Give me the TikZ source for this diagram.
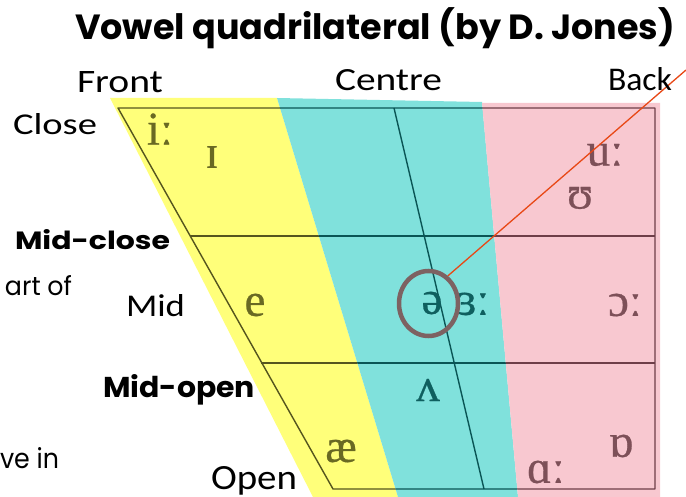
\documentclass[tikz,border=0pt]{standalone}
\usepackage{fontspec}
\usepackage{graphicx}
\usetikzlibrary{shapes.geometric}
\newfontfamily\popfont{Poppins}
\newfontfamily\carfont{Carlito}
\newfontfamily\ipafont[FakeBold=0.6]{Liberation Serif}
\definecolor{ylw}{RGB}{255,255,122}
\definecolor{cyn}{RGB}{128,225,220}
\definecolor{pnk}{RGB}{248,200,208}
\definecolor{lineY}{RGB}{85,85,30}
\definecolor{lineC}{RGB}{10,85,85}
\definecolor{lineP}{RGB}{110,62,72}
\definecolor{txtY}{RGB}{105,105,35}
\definecolor{txtC}{RGB}{15,95,95}
\definecolor{txtP}{RGB}{125,80,88}
\definecolor{ringcol}{RGB}{125,98,98}
\definecolor{redline}{RGB}{232,72,22}
\newcommand\quadgrid[1]{%
  \draw[line width=1.4pt,#1,line join=round] (TL) -- (TR) -- (BR) -- (BL) -- cycle;
  \draw[line width=1.4pt,#1] (L1) -- (R1);
  \draw[line width=1.4pt,#1] (L2) -- (R2);
  \draw[line width=1.4pt,#1] (CT) -- (CB);
}
\begin{document}
\begin{tikzpicture}[x=1pt,y=-1pt,
  lbl/.style={anchor=base west,inner sep=0pt,outer sep=0pt},
  vow/.style={inner sep=0pt,font=\ipafont\fontsize{47}{47}\selectfont},
  vY/.style={vow,text=txtY},
  vC/.style={vow,text=txtC},
  vP/.style={vow,text=txtP}]
\fill[white] (0,0) rectangle (686,497);
\useasboundingbox (0,0) rectangle (686,497);
% colour bands
\coordinate (Y1) at (110,98);
\coordinate (Y2) at (277,98);
\coordinate (Y3) at (398,497);
\coordinate (Y4) at (313,497);
\coordinate (C2) at (482,102);
\coordinate (C3) at (518,497);
\coordinate (P1) at (482,103);
\coordinate (P2) at (660,103);
\coordinate (P3) at (660,497);
\fill[ylw] (Y1) -- (Y2) -- (Y3) -- (Y4) -- cycle;
\fill[cyn] (Y2) -- (C2) -- (C3) -- (Y3) -- cycle;
\fill[pnk] (P1) -- (P2) -- (P3) -- (C3) -- cycle;
% grid
\coordinate (TL) at (118,108);
\coordinate (TR) at (655,108);
\coordinate (BR) at (655,489);
\coordinate (BL) at (333,489);
\coordinate (CT) at (394,108);
\coordinate (CB) at (484,489);
\coordinate (L1) at (190,236);
\coordinate (R1) at (655,236);
\coordinate (L2) at (261,363);
\coordinate (R2) at (655,363);
\begin{scope}
  \clip (Y1) -- (Y2) -- (Y3) -- (Y4) -- cycle;
  \quadgrid{lineY}
\end{scope}
\begin{scope}
  \clip (Y2) -- (C2) -- (C3) -- (Y3) -- cycle;
  \quadgrid{lineC}
\end{scope}
\begin{scope}
  \clip (P1) -- (P2) -- (P3) -- (C3) -- cycle;
  \quadgrid{lineP}
\end{scope}
% vowels
\node[vY] (vi) at (160,129) {iː};
\node[vY] (vI) at (212,157) {ɪ};
\node[vY] (ve) at (255,305) {e};
\node[vY] (vae) at (341,451) {æ};
\node[vC] (vschwa) at (432,303) {ə};
\node[vC] (ver) at (473,304) {ɜː};
\node[vC] (vV) at (428,390) {ʌ};
\node[vP] (vu) at (605,155) {uː};
\node[vP] (vU) at (580,198) {ʊ};
\node[vP] (vo) at (625,305) {ɔː};
\node[vP] (vQ) at (621,446) {ɒ};
\node[vP] (va) at (546,472) {ɑː};
% ring and pointer
\node[ellipse,draw=ringcol,line width=4.5pt,minimum width=59pt,minimum height=65pt,inner sep=0pt] (ring) at (428.5,303.5) {};
\coordinate (tip) at (686,70);
\draw[redline,line width=1.3pt] (ring.55) -- (tip);
% labels
\node[lbl] (title) at (75,40) {\resizebox{600pt}{!}{\popfont\bfseries Vowel quadrilateral (by D. Jones)}};
\node[lbl] (front) at (77,93) {\resizebox{86pt}{21pt}{\carfont Front}};
\node[lbl] (centre) at (335,91) {\resizebox{107pt}{21pt}{\carfont Centre}};
\node[lbl] (back) at (608,91) {\resizebox{64pt}{23pt}{\carfont Back}};
\node[lbl] (close) at (13,135) {\resizebox{84pt}{21pt}{\carfont Close}};
\node[lbl] (midclose) at (15,250) {\resizebox{155pt}{20pt}{\popfont\bfseries Mid-close}};
\node[lbl] (mid) at (126,317) {\resizebox{59pt}{22pt}{\carfont Mid}};
\node[lbl] (midopen) at (103,398) {\resizebox{152pt}{23pt}{\popfont\bfseries Mid-open}};
\node[lbl] (open) at (211,489) {\resizebox{86pt}{23pt}{\carfont Open}};
\node[lbl] (artof) at (5,296) {\resizebox{67pt}{20pt}{\popfont art of}};
\node[lbl] (vein) at (0,468) {\resizebox{59pt}{21pt}{\popfont ve in}};
\end{tikzpicture}
\end{document}
